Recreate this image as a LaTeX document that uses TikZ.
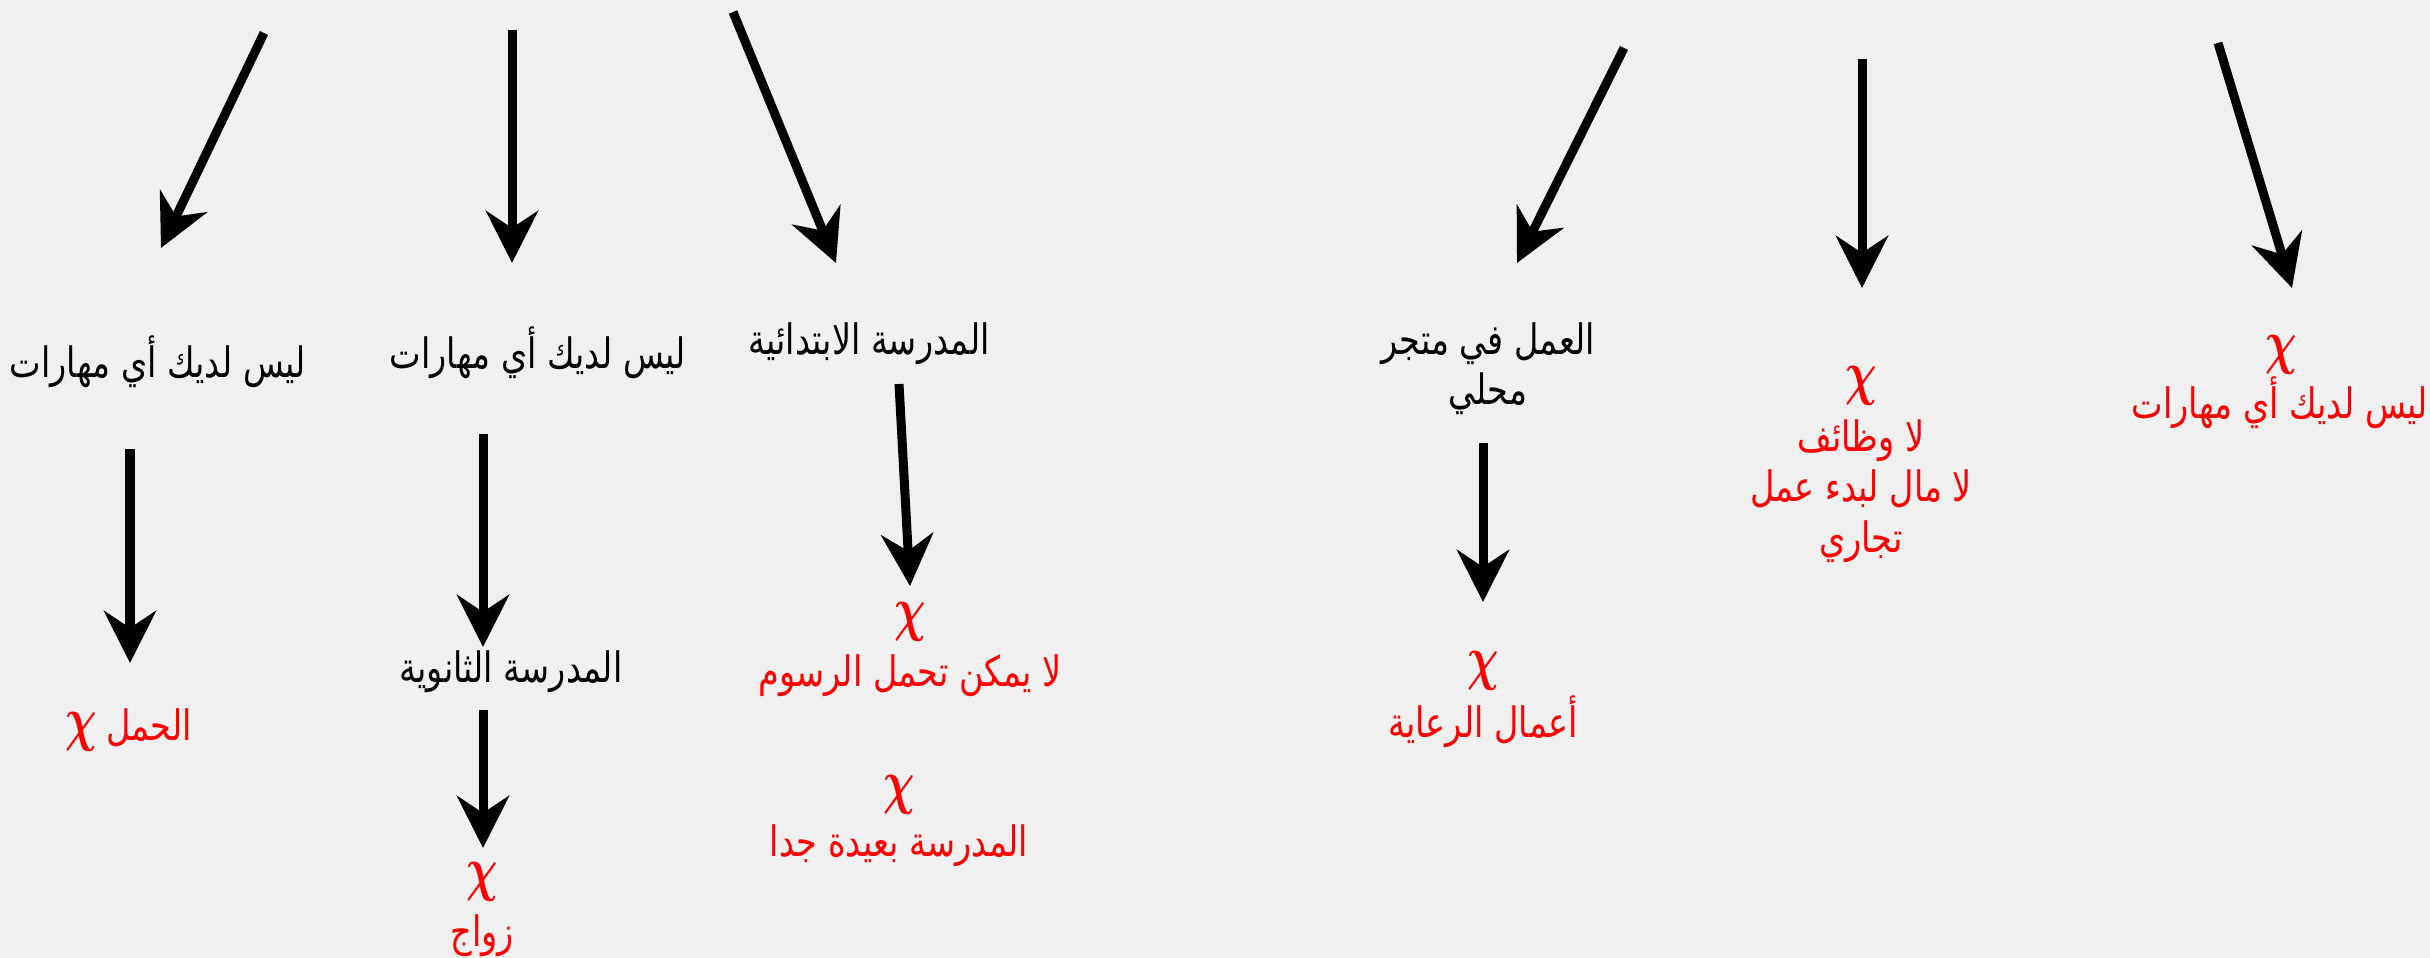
\documentclass[tikz,border=0pt]{standalone}
\usepackage{amsmath}
\usepackage{fontspec}
\usepackage{tikz}
\usetikzlibrary{arrows.meta}
\TeXXeTstate=1
\newfontfamily\arabicfont[Script=Arabic,FakeStretch=0.8]{DejaVu Sans}
\definecolor{bggray}{RGB}{240,240,240}
\definecolor{redx}{RGB}{255,0,0}
\newcommand{\nomark}{\scalebox{0.72}[1]{$\boldsymbol{\chi}$}}
\tikzset{
  arr/.style={line width=0.09cm, -{Stealth[length=0.52cm, width=0.52cm, inset=0.17cm]}},
  txt/.style={font=\arabicfont\fontsize{11.9}{14.3}\selectfont, align=center, inner sep=0pt},
  redtxt/.style={txt, text=redx},
  cross/.style={font=\fontsize{16}{18}\selectfont, text=redx, inner sep=0pt},
}

\begin{document}
\begin{tikzpicture}[line cap=butt,line join=miter,x=0.01cm,y=-0.01cm]
\fill [bggray] (0,0) rectangle (2430,958);
\useasboundingbox (0,0) rectangle (2430,958);
% free ends of the arrows
\coordinate (s1) at (264,33);   \coordinate (e1) at (161,248);
\coordinate (s2) at (512,30);   \coordinate (e2) at (512,263);
\coordinate (s3) at (733,12);   \coordinate (e3) at (836,263);
\coordinate (s4) at (1624,48);  \coordinate (e4) at (1517,263);
\coordinate (s5) at (1862,59);  \coordinate (e5) at (1862,288);
\coordinate (s6) at (2218,43);  \coordinate (e6) at (2292,288);
\coordinate (s7) at (130,449);  \coordinate (e7) at (130,663);
\coordinate (s8) at (483,434);  \coordinate (e8) at (483,647);
\coordinate (s9) at (483,710);  \coordinate (e9) at (483,848);
\coordinate (s10) at (899,384); \coordinate (e10) at (910,586);
\coordinate (s11) at (1483,443); \coordinate (e11) at (1483,602);
% first row
\node [txt] (skillsa) at (158,362) {\beginR ليس لديك أي مهارات\endR};
\node [txt] (skillsb) at (538,353) {\beginR ليس لديك أي مهارات\endR};
\node [txt] (primary) at (869,344) {\beginR المدرسة الابتدائية\endR};
\node [txt] (shop) at (1488,369) {\beginR العمل في متجر\endR\\\beginR محلي\endR};
\node [cross] (xjobs) at (1861,386) {\nomark};
\node [redtxt] (nojobs) at (1861,491) {\beginR لا وظائف\endR\\\beginR لا مال لبدء عمل\endR\\\beginR تجاري\endR};
\node [cross] (xskills) at (2281,355) {\nomark};
\node [redtxt] (noskills) at (2280,403) {\beginR ليس لديك أي مهارات\endR};
% second row
\node [cross] (xpreg) at (81,732) {\nomark};
\node [redtxt] (preg) at (149,728) {\beginR الحمل\endR};
\node [txt] (secondary) at (511,672) {\beginR المدرسة الثانوية\endR};
\node [cross] (xmarry) at (482,882) {\nomark};
\node [redtxt] (marry) at (482,936) {\beginR زواج\endR};
\node [cross] (xfees) at (910,622) {\nomark};
\node [redtxt] (fees) at (910,676) {\beginR لا يمكن تحمل الرسوم\endR};
\node [cross] (xfar) at (899,795) {\nomark};
\node [redtxt] (far) at (899,846) {\beginR المدرسة بعيدة جدا\endR};
\node [cross] (xcare) at (1483,671) {\nomark};
\node [redtxt] (care) at (1483,722) {\beginR أعمال الرعاية\endR};
% arrows
\draw [arr] (s1) -- (e1);
\draw [arr] (s2) -- (e2);
\draw [arr] (s3) -- (e3);
\draw [arr] (s4) -- (e4);
\draw [arr] (s5) -- (e5);
\draw [arr] (s6) -- (e6);
\draw [arr] (s7) -- (e7);
\draw [arr] (s8) -- (e8);
\draw [arr] (s9) -- (e9);
\draw [arr] (s10) -- (e10);
\draw [arr] (s11) -- (e11);
\end{tikzpicture}
\end{document}
